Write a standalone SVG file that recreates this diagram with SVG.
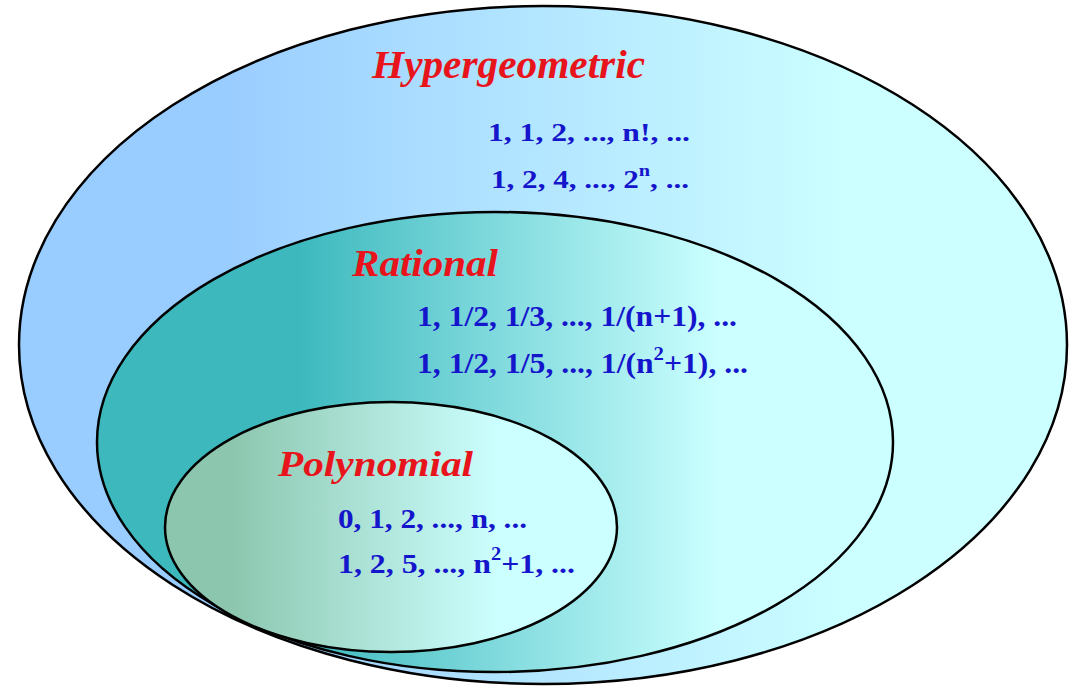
<svg xmlns="http://www.w3.org/2000/svg" width="1070" height="686" viewBox="0 0 1070 686">
<defs>
<linearGradient id="gOuter" gradientUnits="userSpaceOnUse" x1="210" y1="0" x2="850" y2="0">
<stop offset="0" stop-color="#99CCFF"/>
<stop offset="1" stop-color="#CCFFFF"/>
</linearGradient>
<linearGradient id="gRat" gradientUnits="userSpaceOnUse" x1="300" y1="0" x2="720" y2="0">
<stop offset="0" stop-color="#3DB9BE"/>
<stop offset="1" stop-color="#CCFFFF"/>
</linearGradient>
<linearGradient id="gPoly" gradientUnits="userSpaceOnUse" x1="230" y1="0" x2="500" y2="0">
<stop offset="0" stop-color="#8CC6AE"/>
<stop offset="1" stop-color="#CCFFFF"/>
</linearGradient>
</defs>
<style>
.shape{stroke:#000;stroke-width:2.5}
.title{font-family:"Liberation Serif","Times New Roman",serif;font-weight:bold;font-style:italic;fill:#E8141C}
.seq{font-family:"Liberation Serif","Times New Roman",serif;font-weight:bold;fill:#1515CC}
</style>
<rect width="1070" height="686" fill="#FFFFFF"/>
<g id="hypergeometric">
<ellipse class="shape" cx="543" cy="345" rx="524" ry="339" fill="url(#gOuter)"/>
<text class="title" x="372" y="78" font-size="40" textLength="273" lengthAdjust="spacingAndGlyphs">Hypergeometric</text>
<text class="seq" x="488" y="141" font-size="26" textLength="202" lengthAdjust="spacingAndGlyphs">1, 1, 2, ..., n!, ...</text>
<text class="seq" x="491" y="188" font-size="26" textLength="198" lengthAdjust="spacingAndGlyphs">1, 2, 4, ..., 2<tspan font-size="17" dy="-12">n</tspan><tspan dy="12">, ...</tspan></text>
</g>
<g id="rational">
<ellipse class="shape" cx="495" cy="442" rx="398" ry="230" fill="url(#gRat)"/>
<text class="title" x="352" y="276" font-size="38" textLength="146" lengthAdjust="spacingAndGlyphs">Rational</text>
<text class="seq" x="417" y="326" font-size="29" textLength="320" lengthAdjust="spacingAndGlyphs">1, 1/2, 1/3, ..., 1/(n+1), ...</text>
<text class="seq" x="417" y="373" font-size="29" textLength="331" lengthAdjust="spacingAndGlyphs">1, 1/2, 1/5, ..., 1/(n<tspan font-size="19" dy="-13">2</tspan><tspan dy="13">+1), ...</tspan></text>
</g>
<g id="polynomial">
<ellipse class="shape" cx="391" cy="527" rx="226" ry="125" fill="url(#gPoly)"/>
<text class="title" x="278" y="476" font-size="36" textLength="195" lengthAdjust="spacingAndGlyphs">Polynomial</text>
<text class="seq" x="338" y="528" font-size="28" textLength="189" lengthAdjust="spacingAndGlyphs">0, 1, 2, ..., n, ...</text>
<text class="seq" x="338" y="573" font-size="28" textLength="237" lengthAdjust="spacingAndGlyphs">1, 2, 5, ..., n<tspan font-size="18" dy="-13">2</tspan><tspan dy="13">+1, ...</tspan></text>
</g>
</svg>
